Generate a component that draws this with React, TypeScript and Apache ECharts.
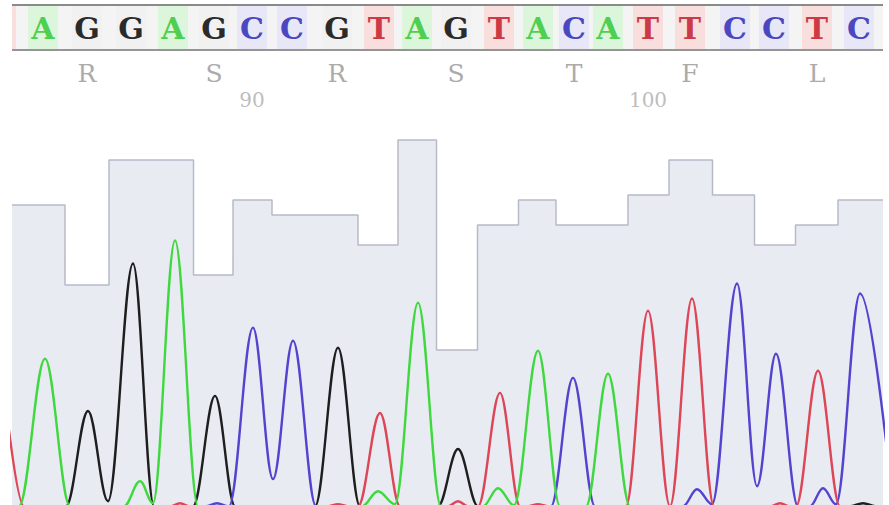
import React, { useEffect, useRef } from "react";
import * as echarts from "echarts";

// Called bases (position 84 .. 105) and their trace positions (scan units)
const firstPosition = 84;
const bases = ["T", "A", "G", "G", "A", "G", "C", "C", "G", "T", "A", "G", "T", "A", "C", "A", "T", "T", "C", "C", "T", "C"];
const basePositions = [1, 43, 87, 131, 173, 214, 252, 292, 337, 379, 417, 456, 499, 538, 574, 608, 648, 690, 735, 774, 817, 859];
// Phred quality for positions 85 .. 105
const quality = [60, 44, 69, 69, 46, 61, 58, 58, 52, 73, 31, 56, 61, 56, 56, 62, 69, 62, 52, 56, 61];
// Translation (amino acid centred on the codon's middle base)
const aminoAcids = ["R", "S", "R", "S", "T", "F", "L"];
const aminoPositions = [86, 89, 92, 95, 98, 101, 104];
const tickPositions = [90, 100];

// Trace key points [scan, signal]
const traceA: [number, number][] = [
  [12, 0], [19, 0], [45, 588], [70, 0], [124, 0], [140, 100], [153, 12], [175, 1060], [198, 0],
  [362, 0], [378, 60], [395, 8], [418, 812], [441, 0], [483, 0], [498, 72], [514, 4], [538, 620],
  [560, 0], [586, 0], [608, 528], [630, 0], [883, 0],
];
const traceG: [number, number][] = [
  [12, 0], [66, 0], [88, 380], [108, 20], [133, 968], [154, 0], [193, 0], [215, 440], [235, 0],
  [315, 0], [338, 632], [360, 0], [438, 0], [458, 228], [478, 0], [850, 0], [863, 12], [876, 0], [883, 0],
];
const traceC: [number, number][] = [
  [12, 0], [205, 0], [217, 12], [229, 0], [253, 712], [273, 108], [293, 660], [316, 0], [551, 0],
  [573, 512], [595, 0], [683, 0], [697, 68], [712, 8], [737, 888], [757, 80], [776, 608], [798, 0],
  [810, 0], [823, 72], [836, 8], [860, 848], [893, 0],
];
const traceT: [number, number][] = [
  [0, 620], [24, 0], [170, 0], [180, 12], [190, 0], [328, 0], [338, 8], [348, 0], [358, 0], [380, 372],
  [400, 0], [448, 0], [458, 20], [468, 0], [478, 0], [500, 452], [520, 0], [528, 0], [538, 8], [548, 0],
  [626, 0], [648, 780], [670, 0], [692, 828], [714, 0], [770, 0], [780, 12], [790, 0], [796, 0],
  [818, 540], [840, 0], [883, 0],
];

const letterColor: Record<string, string> = { A: "#4fcf4f", C: "#4b47c0", G: "#2a2a2a", T: "#cc3a45" };
const cellColor: Record<string, string> = { A: "#dcf6dc", C: "#e7e7f8", G: "#f1f1f1", T: "#f9dede" };

export default function App() {
  const ref = useRef<HTMLDivElement>(null);
  useEffect(() => {
    if (!ref.current) return;
    const chart = echarts.init(ref.current, null, { renderer: "svg" });
    const qualityData: [number, number][] = [
      [12, quality[0]],
      ...basePositions.slice(1).map((x, i) => [x, quality[i]] as [number, number]),
      [883, quality[quality.length - 1]],
    ];
    const trace = (name: string, data: [number, number][], color: string) => ({
      name,
      type: "line",
      xAxisIndex: 0,
      yAxisIndex: 0,
      data,
      smooth: 0.36,
      smoothMonotone: "x",
      symbol: "none",
      z: 5,
      lineStyle: { color, width: 2.4 },
    });
    chart.setOption({
      animation: false,
      backgroundColor: "#ffffff",
      grid: [
        { left: 12, right: 6, top: 130, bottom: 0 },
        { left: 12, right: 6, top: 0, height: 112 },
      ],
      xAxis: [
        { type: "value", gridIndex: 0, min: 12, max: 883, show: false },
        { type: "value", gridIndex: 1, min: 12, max: 883, show: false },
      ],
      yAxis: [
        { type: "value", gridIndex: 0, min: 5, max: 1500, show: false },
        { type: "value", gridIndex: 0, min: 0, max: 75, show: false },
        { type: "value", gridIndex: 1, min: 0, max: 112, inverse: true, show: false },
      ],
      graphic: [
        { type: "rect", z: 0, shape: { x: 12, y: 5, width: 871, height: 45 }, style: { fill: "#f4f4f4" } },
        { type: "line", z: 10, shape: { x1: 12, y1: 5, x2: 883, y2: 5 }, style: { stroke: "#8a8a8a", lineWidth: 2 } },
        { type: "line", z: 10, shape: { x1: 12, y1: 50, x2: 883, y2: 50 }, style: { stroke: "#959595", lineWidth: 2 } },
      ],
      series: [
        {
          name: "quality",
          type: "line",
          xAxisIndex: 0,
          yAxisIndex: 1,
          data: qualityData,
          step: "middle",
          symbol: "none",
          z: 1,
          lineStyle: { color: "#b7bbc8", width: 1.5 },
          areaStyle: { color: "#e9ebf3", opacity: 1 },
        },
        trace("G", traceG, "#1e1e1e"),
        trace("C", traceC, "#5244cf"),
        trace("T", traceT, "#dc4656"),
        trace("A", traceA, "#3fd83f"),
        {
          name: "bases",
          type: "custom",
          xAxisIndex: 1,
          yAxisIndex: 2,
          clip: true,
          data: bases.map((b, i) => [basePositions[i], i]),
          renderItem: (params: any, api: any) => {
            const x = api.value(0);
            const b = bases[api.value(1)];
            const [cx] = api.coord([x, 0]);
            const [left] = api.coord([12, 0]);
            const children: any[] = [
              { type: "rect", shape: { x: cx - 15, y: 6, width: 30, height: 43 }, style: { fill: cellColor[b] } },
            ];
            if (cx - 10 >= left) {
              children.push({
                type: "text",
                style: {
                  text: b, x: cx, y: 28, align: "center", verticalAlign: "middle",
                  font: 'bold 30px "DejaVu Serif"', fill: letterColor[b],
                },
              });
            }
            return { type: "group", children };
          },
        },
        {
          name: "translation",
          type: "custom",
          xAxisIndex: 1,
          yAxisIndex: 2,
          data: aminoPositions.map((p, k) => [basePositions[p - firstPosition], k]),
          renderItem: (params: any, api: any) => {
            const [cx] = api.coord([api.value(0), 0]);
            return {
              type: "text",
              style: {
                text: aminoAcids[api.value(1)], x: cx, y: 73, align: "center", verticalAlign: "middle",
                font: '25px "DejaVu Serif"', fill: "#ababab",
              },
            };
          },
        },
        {
          name: "positions",
          type: "custom",
          xAxisIndex: 1,
          yAxisIndex: 2,
          data: tickPositions.map((p) => [basePositions[p - firstPosition], p]),
          renderItem: (params: any, api: any) => {
            const [cx] = api.coord([api.value(0), 0]);
            return {
              type: "text",
              style: {
                text: String(api.value(1)), x: cx, y: 100, align: "center", verticalAlign: "middle",
                font: '20px "DejaVu Serif"', fill: "#bdbdbd",
              },
            };
          },
        },
      ],
    });
    return () => chart.dispose();
  }, []);
  return (
    <div
      ref={ref}
      style={{ position: "fixed", left: 0, top: 0, width: 889, height: 505, background: "#fff" }}
    />
  );
}
